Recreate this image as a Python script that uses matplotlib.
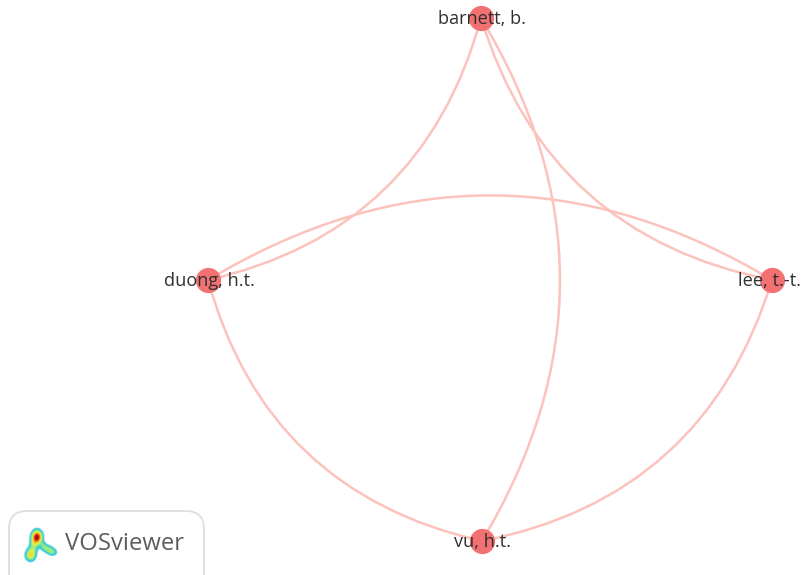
import numpy as np
import matplotlib
matplotlib.use("Agg")
import matplotlib.pyplot as plt
from matplotlib.patches import FancyArrowPatch, FancyBboxPatch
from matplotlib.colors import LinearSegmentedColormap

names = ["barnett, b.", "duong, h.t.", "lee, t.-t.", "vu, h.t."]
node_x = [481, 208, 772, 482]
node_y = [18, 280, 280, 541]
label_x = [482, 209, 770, 483]
edges = [(0, 1), (0, 2), (0, 3), (1, 2), (1, 3), (2, 3)]
edge_rad = [-0.3, 0.3, -0.3, -0.3, 0.3, -0.3]

blob_x = [37, 33.5, 30.5, 43.5, 48, 53]
blob_y = [537, 546, 555, 546, 549, 552.5]
blob_sx = [5.5, 4.5, 5.5, 3.5, 5.5, 5]
blob_sy = [7, 7, 6.5, 4, 4.5, 4]
blob_h = [1.0, 0.3, 0.6, 0.26, 0.36, 0.32]

NODE = "#f27173"
EDGE = "#fcc2bc"
TEXT = "#2f2f2f"

fig = plt.figure(figsize=(8.01, 5.75), dpi=100)
ax = fig.add_axes([0, 0, 1, 1])
ax.set_xlim(0, 801)
ax.set_ylim(575, 0)
ax.axis("off")

for (a, b), rad in zip(edges, edge_rad):
    ax.add_patch(FancyArrowPatch((node_x[a], node_y[a]), (node_x[b], node_y[b]),
                                 connectionstyle=f"arc3,rad={rad}", arrowstyle="-",
                                 shrinkA=0, shrinkB=0, color=EDGE, lw=1.8, zorder=1))
ax.scatter(node_x, node_y, s=330, color=NODE, linewidths=0, zorder=2)
for n, x, y in zip(names, label_x, node_y):
    ax.text(x, y + 1, n, ha="center", va="center", family="Open Sans",
            fontsize=13.1, color=TEXT, zorder=3, clip_on=False)

ax.add_patch(FancyBboxPatch((18, 520), 177, 70, boxstyle="round,pad=9,rounding_size=18",
                            fc="white", ec="#dedede", lw=1.3, zorder=4))
gx, gy = np.meshgrid(np.linspace(20, 64, 176), np.linspace(522, 568, 184))
field = np.zeros_like(gx)
for x, y, sx, sy, h in zip(blob_x, blob_y, blob_sx, blob_sy, blob_h):
    field += h * np.exp(-((gx - x) / sx) ** 2 - ((gy - y) / sy) ** 2)
field = np.clip(field, 0, 1)
cmap = LinearSegmentedColormap.from_list("vos", [(0, "#ffffff"), (0.14, "#ffffff"), (0.18, "#6fd0ea"),
                                                 (0.26, "#27c6d8"), (0.36, "#6fe8a0"), (0.55, "#e4f04a"),
                                                 (0.72, "#f5c21c"), (0.88, "#e8261c"), (1, "#a01010")])
ax.imshow(field, extent=(20, 64, 568, 522), cmap=cmap, vmin=0, vmax=1, zorder=5,
          aspect="auto", interpolation="bilinear")
ax.set_xlim(0, 801)
ax.set_ylim(575, 0)
ax.text(65, 544, "VOSviewer", ha="left", va="center", family="Open Sans", fontsize=17.2,
        color="#5d5d5d", zorder=6)
fig.savefig("out.png", dpi=100)
